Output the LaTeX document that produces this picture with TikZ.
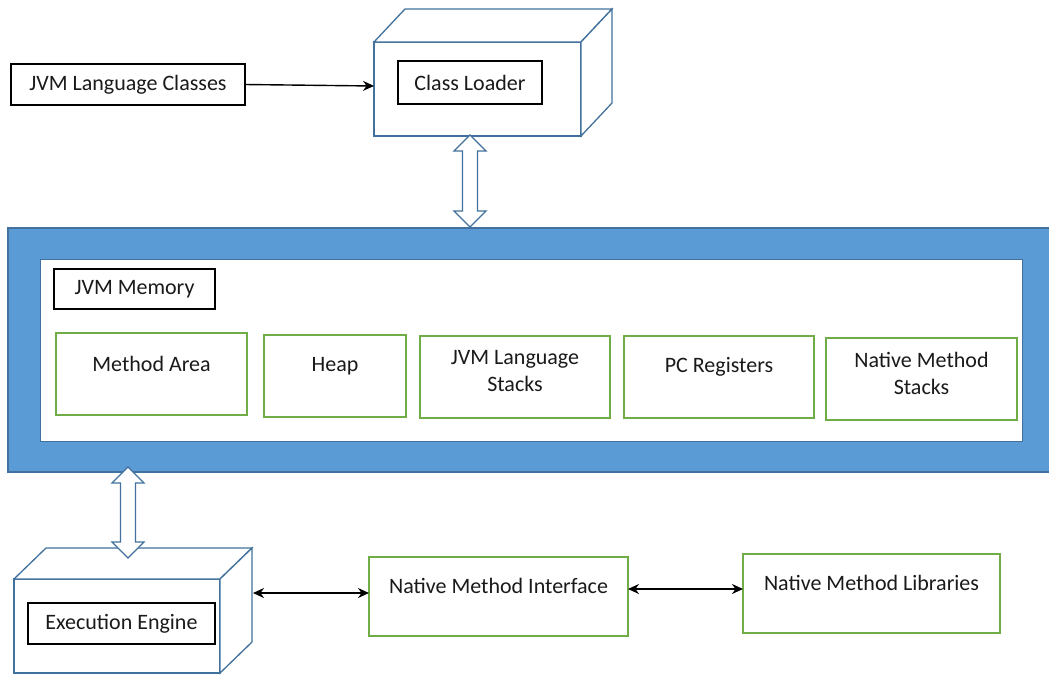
\documentclass[tikz,border=0pt]{standalone}
\usepackage{fontspec}
\setmainfont{Carlito}
\usetikzlibrary{arrows.meta}
\definecolor{ol}{HTML}{41719C}
\definecolor{bandfill}{HTML}{5B9BD5}
\definecolor{grn}{HTML}{70AD47}
\definecolor{txt}{HTML}{1A1A1A}
\begin{document}
\begin{tikzpicture}[x=1pt,y=-1pt,
  font=\fontsize{22}{27}\selectfont, text=txt,
  blackbox/.style={draw=black, line width=1.4pt, fill=white, inner sep=0pt, outer sep=0pt, anchor=north west},
  greenbox/.style={draw=grn, line width=1.3pt, fill=white, inner sep=0pt, outer sep=0pt, anchor=north west, align=center},
  cubeface/.style={draw=ol, line width=1.3pt, fill=white, inner sep=0pt, outer sep=0pt, anchor=north west},
  cubeline/.style={draw=ol, line width=1.3pt, fill=white, line join=miter},
  conn/.style={draw=black, line width=1.9pt, {Stealth[length=11pt,width=10pt]}-{Stealth[length=11pt,width=10pt]}},
  oneway/.style={draw=black, line width=1.4pt, -{Stealth[length=11pt,width=10pt]}},
  blockarrow/.style={draw=ol, line width=1.3pt, fill=white, line join=miter},
  pics/dbl/.style={code={
    \path[blockarrow] (0,0) -- (16,16) -- (7.5,16) -- (7.5,{#1-16}) -- (16,{#1-16}) -- (0,#1)
      -- (-16,{#1-16}) -- (-7.5,{#1-16}) -- (-7.5,16) -- (-16,16) -- cycle;}}
]
\useasboundingbox (0,0) rectangle (1049,675);

% JVM memory band
\path[draw=ol, line width=1.3pt, fill=bandfill] (8,228) rectangle (1052,472);
\node[draw=ol, line width=0.6pt, fill=white, inner sep=0pt, outer sep=0pt, anchor=north west,
      minimum width=982pt, minimum height=182pt] (inner) at (40,259) {};
\node[blackbox, minimum width=161pt, minimum height=40pt] (jvmmem) at (54,269) {JVM Memory};

\node[greenbox, minimum width=191pt, minimum height=82pt,
      label={[anchor=center, yshift=-31pt]north:Method Area}] (ma) at (56,333) {};
\node[greenbox, minimum width=142pt, minimum height=82pt,
      label={[anchor=center, yshift=-31pt]north:Heap}] (heap) at (264,335) {};
\node[greenbox, minimum width=190pt, minimum height=82pt,
      label={[anchor=center, align=center, yshift=-35.5pt]north:JVM Language\\Stacks}] (jls) at (420,336) {};
\node[greenbox, minimum width=190pt, minimum height=82pt,
      label={[anchor=center, yshift=-31pt]north:PC Registers}] (pc) at (624,336) {};
\node[greenbox, minimum width=191pt, minimum height=82pt,
      label={[anchor=center, align=center, yshift=-35pt]north:Native Method\\Stacks}] (nms) at (826,338) {};

% Class loader cube
\node[cubeface, minimum width=207pt, minimum height=94pt] (clfront) at (374,42) {};
\path[cubeline] (clfront.north west) -- ++(31,-33) -- ++(207,0) -- (clfront.north east) -- cycle;
\path[cubeline] (clfront.north east) -- ++(31,-33) -- ++(0,94) -- (clfront.south east) -- cycle;
\node[blackbox, minimum width=144pt, minimum height=43pt] (cl) at (398,61) {Class Loader};

\node[blackbox, minimum width=234pt, minimum height=41pt] (jlc) at (11,64) {JVM Language Classes};
\draw[oneway] (jlc.east) -- ([yshift=3pt]clfront.west);

% Execution engine cube
\node[cubeface, minimum width=206pt, minimum height=94pt] (eefront) at (14,579) {};
\path[cubeline] (eefront.north west) -- ++(32,-31) -- ++(206,0) -- (eefront.north east) -- cycle;
\path[cubeline] (eefront.north east) -- ++(32,-31) -- ++(0,94) -- (eefront.south east) -- cycle;
\node[blackbox, minimum width=187pt, minimum height=41pt] (ee) at (28,603) {Execution Engine};

% block double arrows
\coordinate (ua) at (470,135);
\pic at (ua) {dbl=92};
\coordinate (la) at (128,467);
\pic at (la) {dbl=91};

% native boxes
\node[greenbox, minimum width=259pt, minimum height=79pt,
      label={[anchor=center, yshift=-29pt]north:Native Method Interface}] (nmi) at (369,557) {};
\node[greenbox, minimum width=257pt, minimum height=79pt,
      label={[anchor=center, yshift=-29pt]north:Native Method Libraries}] (nml) at (743,554) {};

\coordinate (eeR) at ([xshift=33pt, yshift=33pt]eefront.east);
\draw[conn] (eeR) -- (nmi.west |- eeR);
\coordinate (nmiR) at ([yshift=7.5pt]nmi.east);
\draw[conn] (nmiR) -- (nml.west |- nmiR);
\end{tikzpicture}
\end{document}
